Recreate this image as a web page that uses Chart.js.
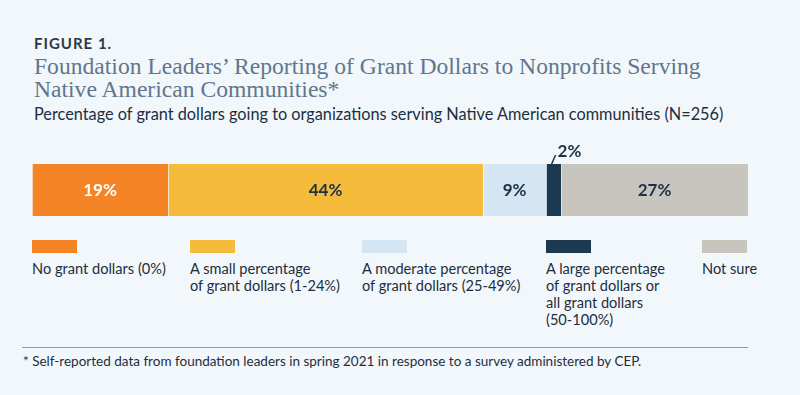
<!DOCTYPE html>
<html>
<head>
<meta charset="utf-8">
<script src="https://cdn.jsdelivr.net/npm/chart.js@4/dist/chart.umd.min.js"></script>
<style>
  body { margin: 0; background: #f2f7fb; }
  #wrap { position: relative; width: 800px; height: 395px; background: #f2f7fb; overflow: hidden;
    font-family: Lato, 'Open Sans', sans-serif; color: #1d2e3e; }
  .fig { position: absolute; left: 34px; top: 34px; font-weight: 700; font-size: 15px; letter-spacing: 1px; color: #2b3a48; }
  .title { position: absolute; left: 34px; top: 55px; font-family: 'Liberation Serif', serif; font-size: 23.6px;
    line-height: 23px; color: #61768c; }
  .sub { position: absolute; left: 34px; top: 104px; font-size: 16.3px; color: #1d2e3e; }
  #chartBox { position: absolute; left: 0; top: 130px; width: 800px; height: 100px; }
  .leg { position: absolute; top: 240px; font-size: 14.6px; line-height: 17px; color: #1d2e3e; }
  .leg i { display: block; width: 45px; height: 13px; margin-bottom: 7px; }
  .rule { position: absolute; left: 22px; top: 347px; width: 726px; height: 1px; background: #8e9aa6; }
  .note { position: absolute; left: 23px; top: 353px; font-size: 13.5px; color: #1d2e3e; }
</style>
</head>
<body>
<div id="wrap">
  <div class="fig">FIGURE 1.</div>
  <div class="title">Foundation Leaders’ Reporting of Grant Dollars to Nonprofits Serving<br>Native American Communities*</div>
  <div class="sub">Percentage of grant dollars going to organizations serving Native American communities (N=256)</div>
  <div id="chartBox"><canvas id="chart"></canvas></div>
  <div id="legend"></div>
  <div class="rule"></div>
  <div class="note">* Self-reported data from foundation leaders in spring 2021 in response to a survey administered by CEP.</div>
</div>
<script>
const categories = ['Native American communities']
const seriesNames = [
  'No grant dollars (0%)',
  'A small percentage<br>of grant dollars (1-24%)',
  'A moderate percentage<br>of grant dollars (25-49%)',
  'A large percentage<br>of grant dollars or<br>all grant dollars<br>(50-100%)',
  'Not sure',
]
// segment lengths as measured on the bar; printed labels are the rounded figures
const seriesValues = [19.0, 44.0, 8.8, 2.1, 26.1]
const valueLabels = ['19%', '44%', '9%', '2%', '27%']
const colors = ['#f58426', '#f5bc3c', '#d4e6f4', '#1b3a52', '#c8c5be']
const labelColors = ['#ffffff', '#1d3147', '#1d3147', '#1d3147', '#1d3147']
const legendLeft = [32, 190, 362, 546, 702]

// labels inside segments, small ones get a callout above
const segmentLabels = {
  id: 'segmentLabels',
  afterDatasetsDraw(chart) {
    const ctx = chart.ctx
    ctx.save()
    ctx.font = 'bold 17px Lato, sans-serif'
    ctx.textAlign = 'center'
    ctx.textBaseline = 'middle'
    chart.data.datasets.forEach((ds, i) => {
      const bar = chart.getDatasetMeta(i).data[0]
      const text = valueLabels[i]
      const w = Math.abs(bar.x - bar.base)
      if (w > 30) {
        ctx.fillStyle = labelColors[i]
        ctx.fillText(text, (bar.x + bar.base) / 2, bar.y + 1)
      } else {
        const top = bar.y - bar.height / 2
        const cx = (bar.x + bar.base) / 2
        ctx.strokeStyle = '#1d3147'
        ctx.lineWidth = 1.5
        ctx.beginPath()
        ctx.moveTo(cx - 2, top)
        ctx.lineTo(cx + 2, top - 9)
        ctx.stroke()
        ctx.fillStyle = '#1d3147'
        ctx.textAlign = 'left'
        ctx.fillText(text, cx + 4, top - 12)
        ctx.textAlign = 'center'
      }
    })
    ctx.restore()
  },
}

new Chart('chart', {
  type: 'bar',
  data: {
    labels: categories,
    datasets: seriesValues.map((v, i) => ({
      label: seriesNames[i],
      data: [v],
      backgroundColor: colors[i],
      borderColor: 'rgba(255,255,255,0.35)',
      borderWidth: {left: 1, right: 0, top: 0, bottom: 0},
      borderSkipped: false,
      barPercentage: 1,
      categoryPercentage: 1,
    })),
  },
  options: {
    indexAxis: 'y',
    responsive: true,
    maintainAspectRatio: false,
    animation: false,
    layout: {padding: {left: 32, right: 52, top: 34, bottom: 14}},
    scales: {
      x: {stacked: true, min: 0, max: 100, display: false},
      y: {stacked: true, display: false},
    },
    plugins: {legend: {display: false}, tooltip: {enabled: false}},
  },
  plugins: [segmentLabels],
})

const legendEl = document.getElementById('legend')
seriesNames.forEach((name, i) => {
  const item = document.createElement('div')
  item.className = 'leg'
  item.style.left = legendLeft[i] + 'px'
  item.innerHTML = `<i style="background:${colors[i]}"></i>${name}`
  legendEl.appendChild(item)
})
</script>
</body>
</html>
